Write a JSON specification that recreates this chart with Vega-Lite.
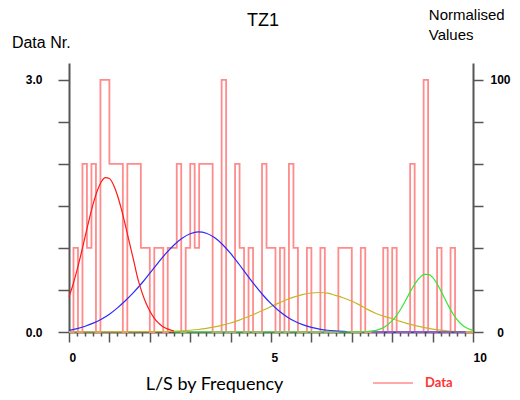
{
  "$schema": "https://vega.github.io/schema/vega-lite/v6.json",
  "autosize": "none",
  "width": 404,
  "height": 269,
  "padding": {"left": 69, "top": 63, "right": 47, "bottom": 68},
  "background": "white",
  "title": {"text": "TZ1", "font": "Liberation Sans", "fontSize": 18, "fontWeight": "normal", "color": "#000", "anchor": "middle", "frame": "group", "dx": -8, "dy": 23, "offset": 0},
  "config": {"view": {"stroke": null}, "axis": {"grid": false}},
  "datasets": {
    "hist": [
      {"x": 0, "n": 0}, {"x": 0.111, "n": 1}, {"x": 0.222, "n": 0}, {"x": 0.333, "n": 2}, {"x": 0.444, "n": 1},
      {"x": 0.556, "n": 2}, {"x": 0.667, "n": 0}, {"x": 0.778, "n": 3}, {"x": 0.889, "n": 3}, {"x": 1, "n": 2},
      {"x": 1.111, "n": 2}, {"x": 1.222, "n": 2}, {"x": 1.333, "n": 0}, {"x": 1.444, "n": 2}, {"x": 1.556, "n": 2},
      {"x": 1.667, "n": 2}, {"x": 1.778, "n": 1}, {"x": 1.889, "n": 1}, {"x": 2, "n": 0}, {"x": 2.111, "n": 1},
      {"x": 2.222, "n": 1}, {"x": 2.333, "n": 0}, {"x": 2.444, "n": 1}, {"x": 2.556, "n": 1}, {"x": 2.667, "n": 2},
      {"x": 2.778, "n": 0}, {"x": 2.889, "n": 1}, {"x": 3, "n": 2}, {"x": 3.111, "n": 1}, {"x": 3.222, "n": 2},
      {"x": 3.333, "n": 2}, {"x": 3.444, "n": 2}, {"x": 3.556, "n": 0}, {"x": 3.667, "n": 0}, {"x": 3.778, "n": 3},
      {"x": 3.889, "n": 0}, {"x": 4, "n": 0}, {"x": 4.111, "n": 2}, {"x": 4.222, "n": 1}, {"x": 4.333, "n": 0},
      {"x": 4.444, "n": 1}, {"x": 4.556, "n": 0}, {"x": 4.667, "n": 0}, {"x": 4.778, "n": 2}, {"x": 4.889, "n": 1},
      {"x": 5, "n": 1}, {"x": 5.111, "n": 0}, {"x": 5.222, "n": 1}, {"x": 5.333, "n": 0}, {"x": 5.444, "n": 2},
      {"x": 5.556, "n": 1}, {"x": 5.667, "n": 0}, {"x": 5.778, "n": 0}, {"x": 5.889, "n": 1}, {"x": 6, "n": 0},
      {"x": 6.111, "n": 0}, {"x": 6.222, "n": 1}, {"x": 6.333, "n": 0}, {"x": 6.444, "n": 0}, {"x": 6.556, "n": 0},
      {"x": 6.667, "n": 1}, {"x": 6.778, "n": 1}, {"x": 6.889, "n": 1}, {"x": 7, "n": 0}, {"x": 7.111, "n": 0},
      {"x": 7.222, "n": 1}, {"x": 7.333, "n": 0}, {"x": 7.444, "n": 0}, {"x": 7.556, "n": 0}, {"x": 7.667, "n": 0},
      {"x": 7.778, "n": 1}, {"x": 7.889, "n": 0}, {"x": 8, "n": 1}, {"x": 8.111, "n": 0}, {"x": 8.222, "n": 0},
      {"x": 8.333, "n": 0}, {"x": 8.444, "n": 2}, {"x": 8.556, "n": 0}, {"x": 8.667, "n": 0}, {"x": 8.778, "n": 3},
      {"x": 8.889, "n": 0}, {"x": 9, "n": 0}, {"x": 9.111, "n": 1}, {"x": 9.222, "n": 0}, {"x": 9.333, "n": 0},
      {"x": 9.444, "n": 1}, {"x": 9.556, "n": 0}, {"x": 9.667, "n": 0}, {"x": 9.778, "n": 0}, {"x": 9.889, "n": 0},
      {"x": 10, "n": 0}
    ],
    "curves": [
      {"curve": "yellow", "seg": "y", "x": 0, "v": 0}, {"curve": "yellow", "seg": "y", "x": 1, "v": 0.001},
      {"curve": "yellow", "seg": "y", "x": 2, "v": 0.004}, {"curve": "yellow", "seg": "y", "x": 2.6, "v": 0.009},
      {"curve": "yellow", "seg": "y", "x": 2.8, "v": 0.014}, {"curve": "yellow", "seg": "y", "x": 3, "v": 0.021},
      {"curve": "yellow", "seg": "y", "x": 3.2, "v": 0.03}, {"curve": "yellow", "seg": "y", "x": 3.4, "v": 0.043},
      {"curve": "yellow", "seg": "y", "x": 3.6, "v": 0.06}, {"curve": "yellow", "seg": "y", "x": 3.8, "v": 0.081},
      {"curve": "yellow", "seg": "y", "x": 4, "v": 0.107}, {"curve": "yellow", "seg": "y", "x": 4.2, "v": 0.139},
      {"curve": "yellow", "seg": "y", "x": 4.4, "v": 0.175}, {"curve": "yellow", "seg": "y", "x": 4.6, "v": 0.215},
      {"curve": "yellow", "seg": "y", "x": 4.8, "v": 0.258}, {"curve": "yellow", "seg": "y", "x": 5, "v": 0.303},
      {"curve": "yellow", "seg": "y", "x": 5.2, "v": 0.346}, {"curve": "yellow", "seg": "y", "x": 5.4, "v": 0.387},
      {"curve": "yellow", "seg": "y", "x": 5.6, "v": 0.421}, {"curve": "yellow", "seg": "y", "x": 5.8, "v": 0.448},
      {"curve": "yellow", "seg": "y", "x": 6, "v": 0.464}, {"curve": "yellow", "seg": "y", "x": 6.2, "v": 0.47},
      {"curve": "yellow", "seg": "y", "x": 6.4, "v": 0.462}, {"curve": "yellow", "seg": "y", "x": 6.6, "v": 0.435},
      {"curve": "yellow", "seg": "y", "x": 6.8, "v": 0.405}, {"curve": "yellow", "seg": "y", "x": 7, "v": 0.368},
      {"curve": "yellow", "seg": "y", "x": 7.2, "v": 0.32}, {"curve": "yellow", "seg": "y", "x": 7.4, "v": 0.266},
      {"curve": "yellow", "seg": "y", "x": 7.6, "v": 0.22}, {"curve": "yellow", "seg": "y", "x": 7.8, "v": 0.186},
      {"curve": "yellow", "seg": "y", "x": 8, "v": 0.158}, {"curve": "yellow", "seg": "y", "x": 8.2, "v": 0.127},
      {"curve": "yellow", "seg": "y", "x": 8.4, "v": 0.097}, {"curve": "yellow", "seg": "y", "x": 8.6, "v": 0.072},
      {"curve": "yellow", "seg": "y", "x": 8.8, "v": 0.052}, {"curve": "yellow", "seg": "y", "x": 9, "v": 0.035},
      {"curve": "yellow", "seg": "y", "x": 9.2, "v": 0.022}, {"curve": "yellow", "seg": "y", "x": 9.4, "v": 0.012},
      {"curve": "yellow", "seg": "y", "x": 9.6, "v": 0.006}, {"curve": "yellow", "seg": "y", "x": 9.8, "v": 0.003},
      {"curve": "yellow", "seg": "y", "x": 10, "v": 0.001},

      {"curve": "blue", "seg": "b1", "x": 0, "v": 0.02}, {"curve": "blue", "seg": "b1", "x": 0.2, "v": 0.04},
      {"curve": "blue", "seg": "b1", "x": 0.4, "v": 0.068}, {"curve": "blue", "seg": "b1", "x": 0.6, "v": 0.105},
      {"curve": "blue", "seg": "b1", "x": 0.8, "v": 0.152}, {"curve": "blue", "seg": "b1", "x": 1, "v": 0.212},
      {"curve": "blue", "seg": "b1", "x": 1.2, "v": 0.287}, {"curve": "blue", "seg": "b1", "x": 1.4, "v": 0.375},
      {"curve": "blue", "seg": "b1", "x": 1.6, "v": 0.472}, {"curve": "blue", "seg": "b1", "x": 1.8, "v": 0.58},
      {"curve": "blue", "seg": "b1", "x": 2, "v": 0.7}, {"curve": "blue", "seg": "b1", "x": 2.2, "v": 0.82},
      {"curve": "blue", "seg": "b1", "x": 2.4, "v": 0.935}, {"curve": "blue", "seg": "b1", "x": 2.6, "v": 1.035},
      {"curve": "blue", "seg": "b1", "x": 2.8, "v": 1.115}, {"curve": "blue", "seg": "b1", "x": 3, "v": 1.168},
      {"curve": "blue", "seg": "b1", "x": 3.2, "v": 1.19}, {"curve": "blue", "seg": "b1", "x": 3.4, "v": 1.175},
      {"curve": "blue", "seg": "b1", "x": 3.6, "v": 1.123}, {"curve": "blue", "seg": "b1", "x": 3.8, "v": 1.041},
      {"curve": "blue", "seg": "b1", "x": 4, "v": 0.934}, {"curve": "blue", "seg": "b1", "x": 4.2, "v": 0.812},
      {"curve": "blue", "seg": "b1", "x": 4.4, "v": 0.683}, {"curve": "blue", "seg": "b1", "x": 4.6, "v": 0.557},
      {"curve": "blue", "seg": "b1", "x": 4.8, "v": 0.44}, {"curve": "blue", "seg": "b1", "x": 5, "v": 0.337},
      {"curve": "blue", "seg": "b1", "x": 5.2, "v": 0.249}, {"curve": "blue", "seg": "b1", "x": 5.4, "v": 0.179},
      {"curve": "blue", "seg": "b1", "x": 5.6, "v": 0.124}, {"curve": "blue", "seg": "b1", "x": 5.8, "v": 0.084},
      {"curve": "blue", "seg": "b1", "x": 6, "v": 0.055}, {"curve": "blue", "seg": "b1", "x": 6.2, "v": 0.035},
      {"curve": "blue", "seg": "b1", "x": 6.4, "v": 0.021}, {"curve": "blue", "seg": "b1", "x": 6.6, "v": 0.013},
      {"curve": "blue", "seg": "b1", "x": 6.88, "v": 0.006},
      {"curve": "blue", "seg": "b2", "x": 7.49, "v": 0}, {"curve": "blue", "seg": "b2", "x": 9.82, "v": 0},

      {"curve": "red", "seg": "r", "x": 0, "v": 0.418}, {"curve": "red", "seg": "r", "x": 0.1, "v": 0.565},
      {"curve": "red", "seg": "r", "x": 0.2, "v": 0.738}, {"curve": "red", "seg": "r", "x": 0.3, "v": 0.931},
      {"curve": "red", "seg": "r", "x": 0.4, "v": 1.137}, {"curve": "red", "seg": "r", "x": 0.5, "v": 1.34},
      {"curve": "red", "seg": "r", "x": 0.6, "v": 1.527}, {"curve": "red", "seg": "r", "x": 0.7, "v": 1.68},
      {"curve": "red", "seg": "r", "x": 0.8, "v": 1.787}, {"curve": "red", "seg": "r", "x": 0.9, "v": 1.837},
      {"curve": "red", "seg": "r", "x": 1, "v": 1.825}, {"curve": "red", "seg": "r", "x": 1.1, "v": 1.751},
      {"curve": "red", "seg": "r", "x": 1.2, "v": 1.624}, {"curve": "red", "seg": "r", "x": 1.3, "v": 1.455},
      {"curve": "red", "seg": "r", "x": 1.4, "v": 1.26}, {"curve": "red", "seg": "r", "x": 1.5, "v": 1.054},
      {"curve": "red", "seg": "r", "x": 1.6, "v": 0.852}, {"curve": "red", "seg": "r", "x": 1.7, "v": 0.64},
      {"curve": "red", "seg": "r", "x": 1.8, "v": 0.48}, {"curve": "red", "seg": "r", "x": 1.9, "v": 0.35},
      {"curve": "red", "seg": "r", "x": 2, "v": 0.25}, {"curve": "red", "seg": "r", "x": 2.1, "v": 0.172},
      {"curve": "red", "seg": "r", "x": 2.2, "v": 0.114}, {"curve": "red", "seg": "r", "x": 2.3, "v": 0.072},
      {"curve": "red", "seg": "r", "x": 2.4, "v": 0.044}, {"curve": "red", "seg": "r", "x": 2.5, "v": 0.026},
      {"curve": "red", "seg": "r", "x": 2.6, "v": 0.012},

      {"curve": "green", "seg": "g", "x": 2.6, "v": 0}, {"curve": "green", "seg": "g", "x": 5, "v": 0},
      {"curve": "green", "seg": "g", "x": 7, "v": 0}, {"curve": "green", "seg": "g", "x": 7.2, "v": 0.0015},
      {"curve": "green", "seg": "g", "x": 7.4, "v": 0.006}, {"curve": "green", "seg": "g", "x": 7.6, "v": 0.02},
      {"curve": "green", "seg": "g", "x": 7.8, "v": 0.057}, {"curve": "green", "seg": "g", "x": 8, "v": 0.135},
      {"curve": "green", "seg": "g", "x": 8.1, "v": 0.193}, {"curve": "green", "seg": "g", "x": 8.2, "v": 0.265},
      {"curve": "green", "seg": "g", "x": 8.3, "v": 0.348}, {"curve": "green", "seg": "g", "x": 8.4, "v": 0.436},
      {"curve": "green", "seg": "g", "x": 8.5, "v": 0.523}, {"curve": "green", "seg": "g", "x": 8.6, "v": 0.599},
      {"curve": "green", "seg": "g", "x": 8.7, "v": 0.656}, {"curve": "green", "seg": "g", "x": 8.8, "v": 0.686},
      {"curve": "green", "seg": "g", "x": 8.9, "v": 0.685}, {"curve": "green", "seg": "g", "x": 9, "v": 0.649},
      {"curve": "green", "seg": "g", "x": 9.1, "v": 0.583}, {"curve": "green", "seg": "g", "x": 9.2, "v": 0.495},
      {"curve": "green", "seg": "g", "x": 9.3, "v": 0.399}, {"curve": "green", "seg": "g", "x": 9.4, "v": 0.305},
      {"curve": "green", "seg": "g", "x": 9.5, "v": 0.22}, {"curve": "green", "seg": "g", "x": 9.6, "v": 0.151},
      {"curve": "green", "seg": "g", "x": 9.7, "v": 0.098}, {"curve": "green", "seg": "g", "x": 9.8, "v": 0.06},
      {"curve": "green", "seg": "g", "x": 9.9, "v": 0.035}, {"curve": "green", "seg": "g", "x": 10, "v": 0.019}
    ]
  },
  "encoding": {
    "x": {
      "field": "x", "type": "quantitative",
      "scale": {"domain": [0, 10], "nice": false, "zero": false},
      "axis": {
        "values": [0,0.2,0.4,0.6,0.8,1,1.2,1.4,1.6,1.8,2,2.2,2.4,2.6,2.8,3,3.2,3.4,3.6,3.8,4,4.2,4.4,4.6,4.8,5,5.2,5.4,5.6,5.8,6,6.2,6.4,6.6,6.8,7,7.2,7.4,7.6,7.8,8,8.2,8.4,8.6,8.8,9,9.2,9.4,9.6,9.8,10],
        "tickSize": {"condition": {"test": "datum.value % 1 == 0", "value": 10}, "value": 4},
        "tickColor": "#555", "tickWidth": 1.5,
        "domainColor": "#555", "domainWidth": 2,
        "labelExpr": "datum.value == 0 ? '0' : datum.value == 5 ? '5' : datum.value == 10 ? '10' : ''",
        "labelAlign": "left", "labelBaseline": "top", "labelPadding": 10,
        "labelFlush": false, "labelOverlap": false, "labelBound": false,
        "labelFont": "Liberation Sans", "labelFontSize": 12, "labelFontWeight": "bold", "labelColor": "#000",
        "title": "L/S by Frequency", "titleFont": "Lato", "titleFontSize": 18, "titleFontWeight": "normal", "titleColor": "#000",
        "titleAlign": "center", "titleBaseline": "alphabetic", "titleX": 145, "titleY": 57
      }
    }
  },
  "layer": [
    {
      "data": {"name": "hist"},
      "mark": {"type": "line", "interpolate": "step-after", "strokeWidth": 1.8},
      "encoding": {
        "y": {
          "field": "n", "type": "quantitative",
          "scale": {"domain": [0, 3.2], "nice": false, "zero": true},
          "axis": {
            "orient": "left",
            "values": [0, 0.5, 1, 1.5, 2, 2.5, 3],
            "labelExpr": "datum.value == 0 ? '0.0' : datum.value == 3 ? '3.0' : ''",
            "tickSize": 11, "tickColor": "#555", "tickWidth": 1.5,
            "domainColor": "#555", "domainWidth": 2,
            "labelFont": "Liberation Sans", "labelFontSize": 12, "labelFontWeight": "bold", "labelColor": "#000", "labelPadding": 16,
            "title": "Data Nr.", "titleAngle": 0, "titleAlign": "left", "titleBaseline": "alphabetic",
            "titleX": -57.6, "titleY": -15.3, "titleFont": "Liberation Sans", "titleFontSize": 16, "titleFontWeight": "normal", "titleColor": "#000"
          }
        },
        "color": {
          "datum": "Data",
          "scale": {"range": ["#ff8c8c"]},
          "legend": {
            "orient": "none", "legendX": 303, "legendY": 299, "padding": 0,
            "symbolType": "stroke", "symbolSize": 1600, "symbolStrokeWidth": 1.5,
            "labelFont": "Lato", "labelFontSize": 13, "labelFontWeight": "bold", "labelColor": "#ff3333", "labelOffset": 11,
            "title": null
          }
        }
      }
    },
    {
      "data": {"name": "curves"},
      "mark": {"type": "line", "interpolate": "monotone", "strokeWidth": 1.2},
      "encoding": {
        "y": {
          "field": "v", "type": "quantitative",
          "scale": {"domain": [0, 3.2], "nice": false, "zero": true},
          "axis": {
            "orient": "right",
            "values": [0, 0.5, 1, 1.5, 2, 2.5, 3],
            "labelExpr": "datum.value == 3 ? '100' : datum.value == 0 ? '0' : ''",
            "tickSize": 10, "tickColor": "#555", "tickWidth": 1.5,
            "domainColor": "#555", "domainWidth": 2,
            "labelFont": "Liberation Sans", "labelFontSize": 12, "labelFontWeight": "bold", "labelColor": "#000",
            "labelAlign": "center", "labelPadding": 17,
            "title": ["Normalised", "Values"], "titleAngle": 0, "titleAlign": "left", "titleBaseline": "top",
            "titleX": -44.7, "titleY": -56, "titleLineHeight": 20,
            "titleFont": "Liberation Sans", "titleFontSize": 15, "titleFontWeight": "normal", "titleColor": "#000"
          }
        },
        "color": {
          "field": "curve", "type": "nominal",
          "scale": {"domain": ["yellow", "blue", "red", "green"], "range": ["#c8b428", "#2a2aff", "#ff1a1a", "#33e833"]},
          "legend": null
        },
        "detail": {"field": "seg", "type": "nominal"}
      }
    }
  ],
  "resolve": {"scale": {"color": "independent"}, "axis": {"y": "independent"}}
}
